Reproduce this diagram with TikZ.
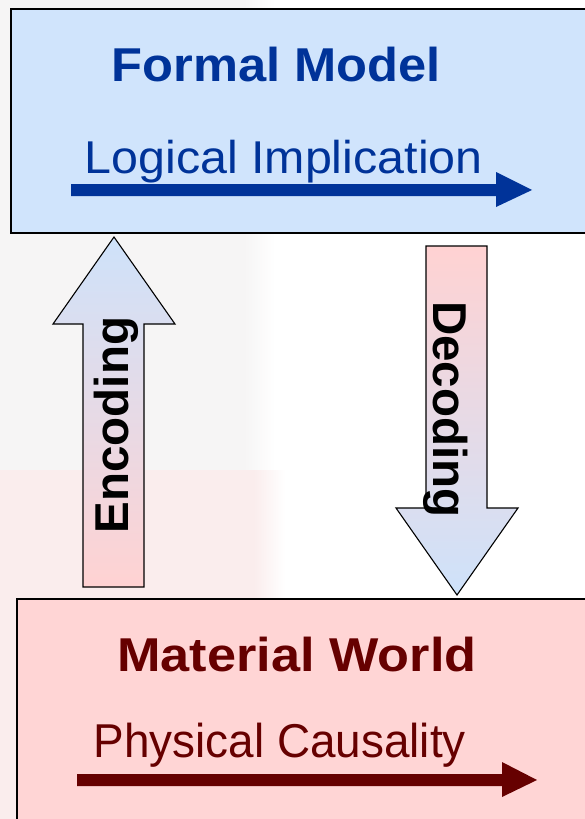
\documentclass[tikz,border=0pt]{standalone}
\usepackage{fontspec}
\setmainfont{Liberation Sans}
\usepackage{graphicx}
\definecolor{fmblue}{RGB}{0,51,153}
\definecolor{mwred}{RGB}{102,0,0}
\definecolor{boxblue}{RGB}{208,228,252}
\definecolor{boxpink}{RGB}{255,213,213}
\definecolor{arrblue}{RGB}{206,226,250}
\definecolor{arrpink}{RGB}{255,210,210}
\definecolor{bggray}{RGB}{246,245,245}
\definecolor{bgpink}{RGB}{250,237,237}
\tikzset{
  mainbox/.style={draw=black, line width=1.5pt, rectangle, inner sep=0pt, anchor=north west},
  titletext/.style={anchor=base west, inner sep=0pt, font=\fontsize{47.5}{50}\selectfont\bfseries},
  subtext/.style={anchor=base west, inner sep=0pt},
  blockarrow/.style={draw=black, line width=1.1pt, line join=miter},
  sidelabel/.style={anchor=base west, inner sep=0pt, font=\fontsize{47.5}{50}\selectfont\bfseries, text=black}
}
\begin{document}
\begin{tikzpicture}[x=1pt,y=-1pt]
\useasboundingbox (0,0) rectangle (585,819);
\clip (0,0) rectangle (585,819);
% faint background picture
\fill[white] (0,0) rectangle (585,819);
\fill[bggray] (0,0) rectangle (245,470);
\shade[left color=bggray, right color=white] (244,0) rectangle (275,470);
\fill[bgpink] (0,470) rectangle (255,819);
\shade[left color=bgpink, right color=white] (254,470) rectangle (285,819);
% boxes
\node[mainbox, fill=boxblue, minimum width=620pt, minimum height=224pt] (formal) at (10,8) {};
\node[mainbox, fill=boxpink, minimum width=620pt, minimum height=260pt] (material) at (16,598) {};
% texts
\node[titletext, text=fmblue] (fmtitle) at (111.3,81) {\scalebox{1.066}[1]{Formal Model}};
\node[subtext, text=fmblue, font=\fontsize{46}{48}\selectfont] (logimp) at (84.4,173) {\scalebox{1.052}[1]{Logical Implication}};
\node[titletext, text=mwred] (mwtitle) at (117.2,671) {\scalebox{1.10}[1]{Material World}};
\node[subtext, text=mwred, font=\fontsize{47.5}{50}\selectfont] (physc) at (93.4,757) {\scalebox{0.966}[1]{Physical Causality}};
% arrows inside boxes
\coordinate (li-s) at (71,190);
\coordinate (li-e) at (532,190);
\fill[fmblue] (li-s) ++(0,-6) -- (496,184) -- (496,172) -- (li-e) -- (496,207) -- (496,196) -- (71,196) -- cycle;
\coordinate (pc-s) at (77,780);
\coordinate (pc-e) at (537,780);
\fill[mwred] (pc-s) ++(0,-6) -- (502,774) -- (502,762) -- (pc-e) -- (502,797) -- (502,786) -- (77,786) -- cycle;
% Encoding block arrow
\path[blockarrow, top color=arrblue, bottom color=arrpink]
  (114,237) -- (175,324) -- (144,324) -- (144,587) -- (83,587) -- (83,324) -- (53,324) -- cycle;
\node[sidelabel, rotate=90] (enc) at (128,533.5) {Encoding};
% Decoding block arrow
\path[blockarrow, top color=arrpink, bottom color=arrblue]
  (426,246) -- (487,246) -- (487,508) -- (518,508) -- (457,595) -- (396,508) -- (426,508) -- cycle;
\node[sidelabel, rotate=-90] (dec) at (433,301) {Decoding};
\end{tikzpicture}
\end{document}
